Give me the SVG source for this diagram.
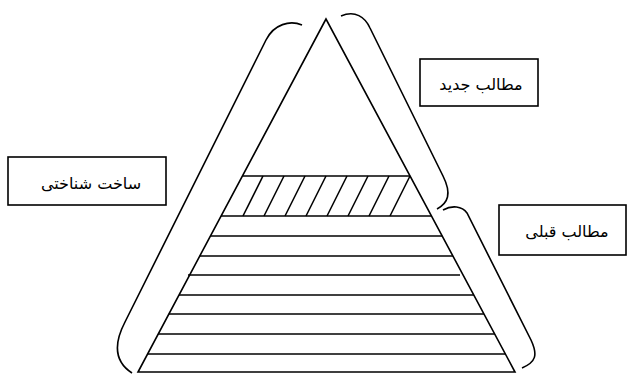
<svg xmlns="http://www.w3.org/2000/svg" width="628" height="374" viewBox="0 0 628 374">
<style>
.ln{fill:none;stroke:#000;stroke-width:1.6;stroke-linecap:butt;stroke-linejoin:miter}
.box{fill:#fff;stroke:#000;stroke-width:1.6}
.lbl{font-family:"DejaVu Sans",sans-serif;font-size:16px;fill:#000;text-anchor:middle}
</style>
<rect width="628" height="374" fill="#fff"/>
<g id="pyramid">
<polygon class="ln" points="326,19 138,372 515,372"/>
<g id="hatch-band">
<line class="ln" x1="242.4" y1="176" x2="410.1" y2="176"/>
<line class="ln" x1="243" y1="216" x2="263" y2="176"/>
<line class="ln" x1="264" y1="216" x2="284" y2="176"/>
<line class="ln" x1="285" y1="216" x2="305" y2="176"/>
<line class="ln" x1="306" y1="216" x2="326" y2="176"/>
<line class="ln" x1="327" y1="216" x2="347" y2="176"/>
<line class="ln" x1="348" y1="216" x2="368" y2="176"/>
<line class="ln" x1="369" y1="216" x2="389" y2="176"/>
<line class="ln" x1="390" y1="216" x2="410" y2="176"/>
</g>
<g id="layers">
<line class="ln" x1="221.1" y1="216" x2="431.5" y2="216"/>
<line class="ln" x1="210.4" y1="236" x2="442.2" y2="236"/>
<line class="ln" x1="199.8" y1="256" x2="452.9" y2="256"/>
<line class="ln" x1="188" y1="275" x2="460" y2="275"/>
<line class="ln" x1="179" y1="295" x2="473.8" y2="295"/>
<line class="ln" x1="168.9" y1="314" x2="483.9" y2="314"/>
<line class="ln" x1="158.2" y1="334" x2="494.7" y2="334"/>
<line class="ln" x1="147.6" y1="354" x2="505.4" y2="354"/>
</g>
</g>
<g id="connectors">
<path id="brace-left" class="ln" d="M302,25 C290,20 274,24 266,40 L125,322 C113,345 115,362 132,373"/>
<path id="brace-new" class="ln" d="M341,16 C355,10 365,17 370,28 L443,176 C452,194 448,203 437,209"/>
<path id="brace-old" class="ln" d="M443,210 C452,205 462,206 467,213 L531,340 C538,355 536,362 522,368"/>
</g>
<g id="node-structure">
<rect class="box" x="8" y="157" width="158" height="48"/>
<text class="lbl" x="91" y="189">ساخت شناختی</text>
</g>
<g id="node-new">
<rect class="box" x="420" y="59" width="118" height="47"/>
<text class="lbl" x="481" y="90">مطالب جدید</text>
</g>
<g id="node-old">
<rect class="box" x="499" y="205" width="127" height="50"/>
<text class="lbl" x="567" y="237">مطالب قبلی</text>
</g>
</svg>
